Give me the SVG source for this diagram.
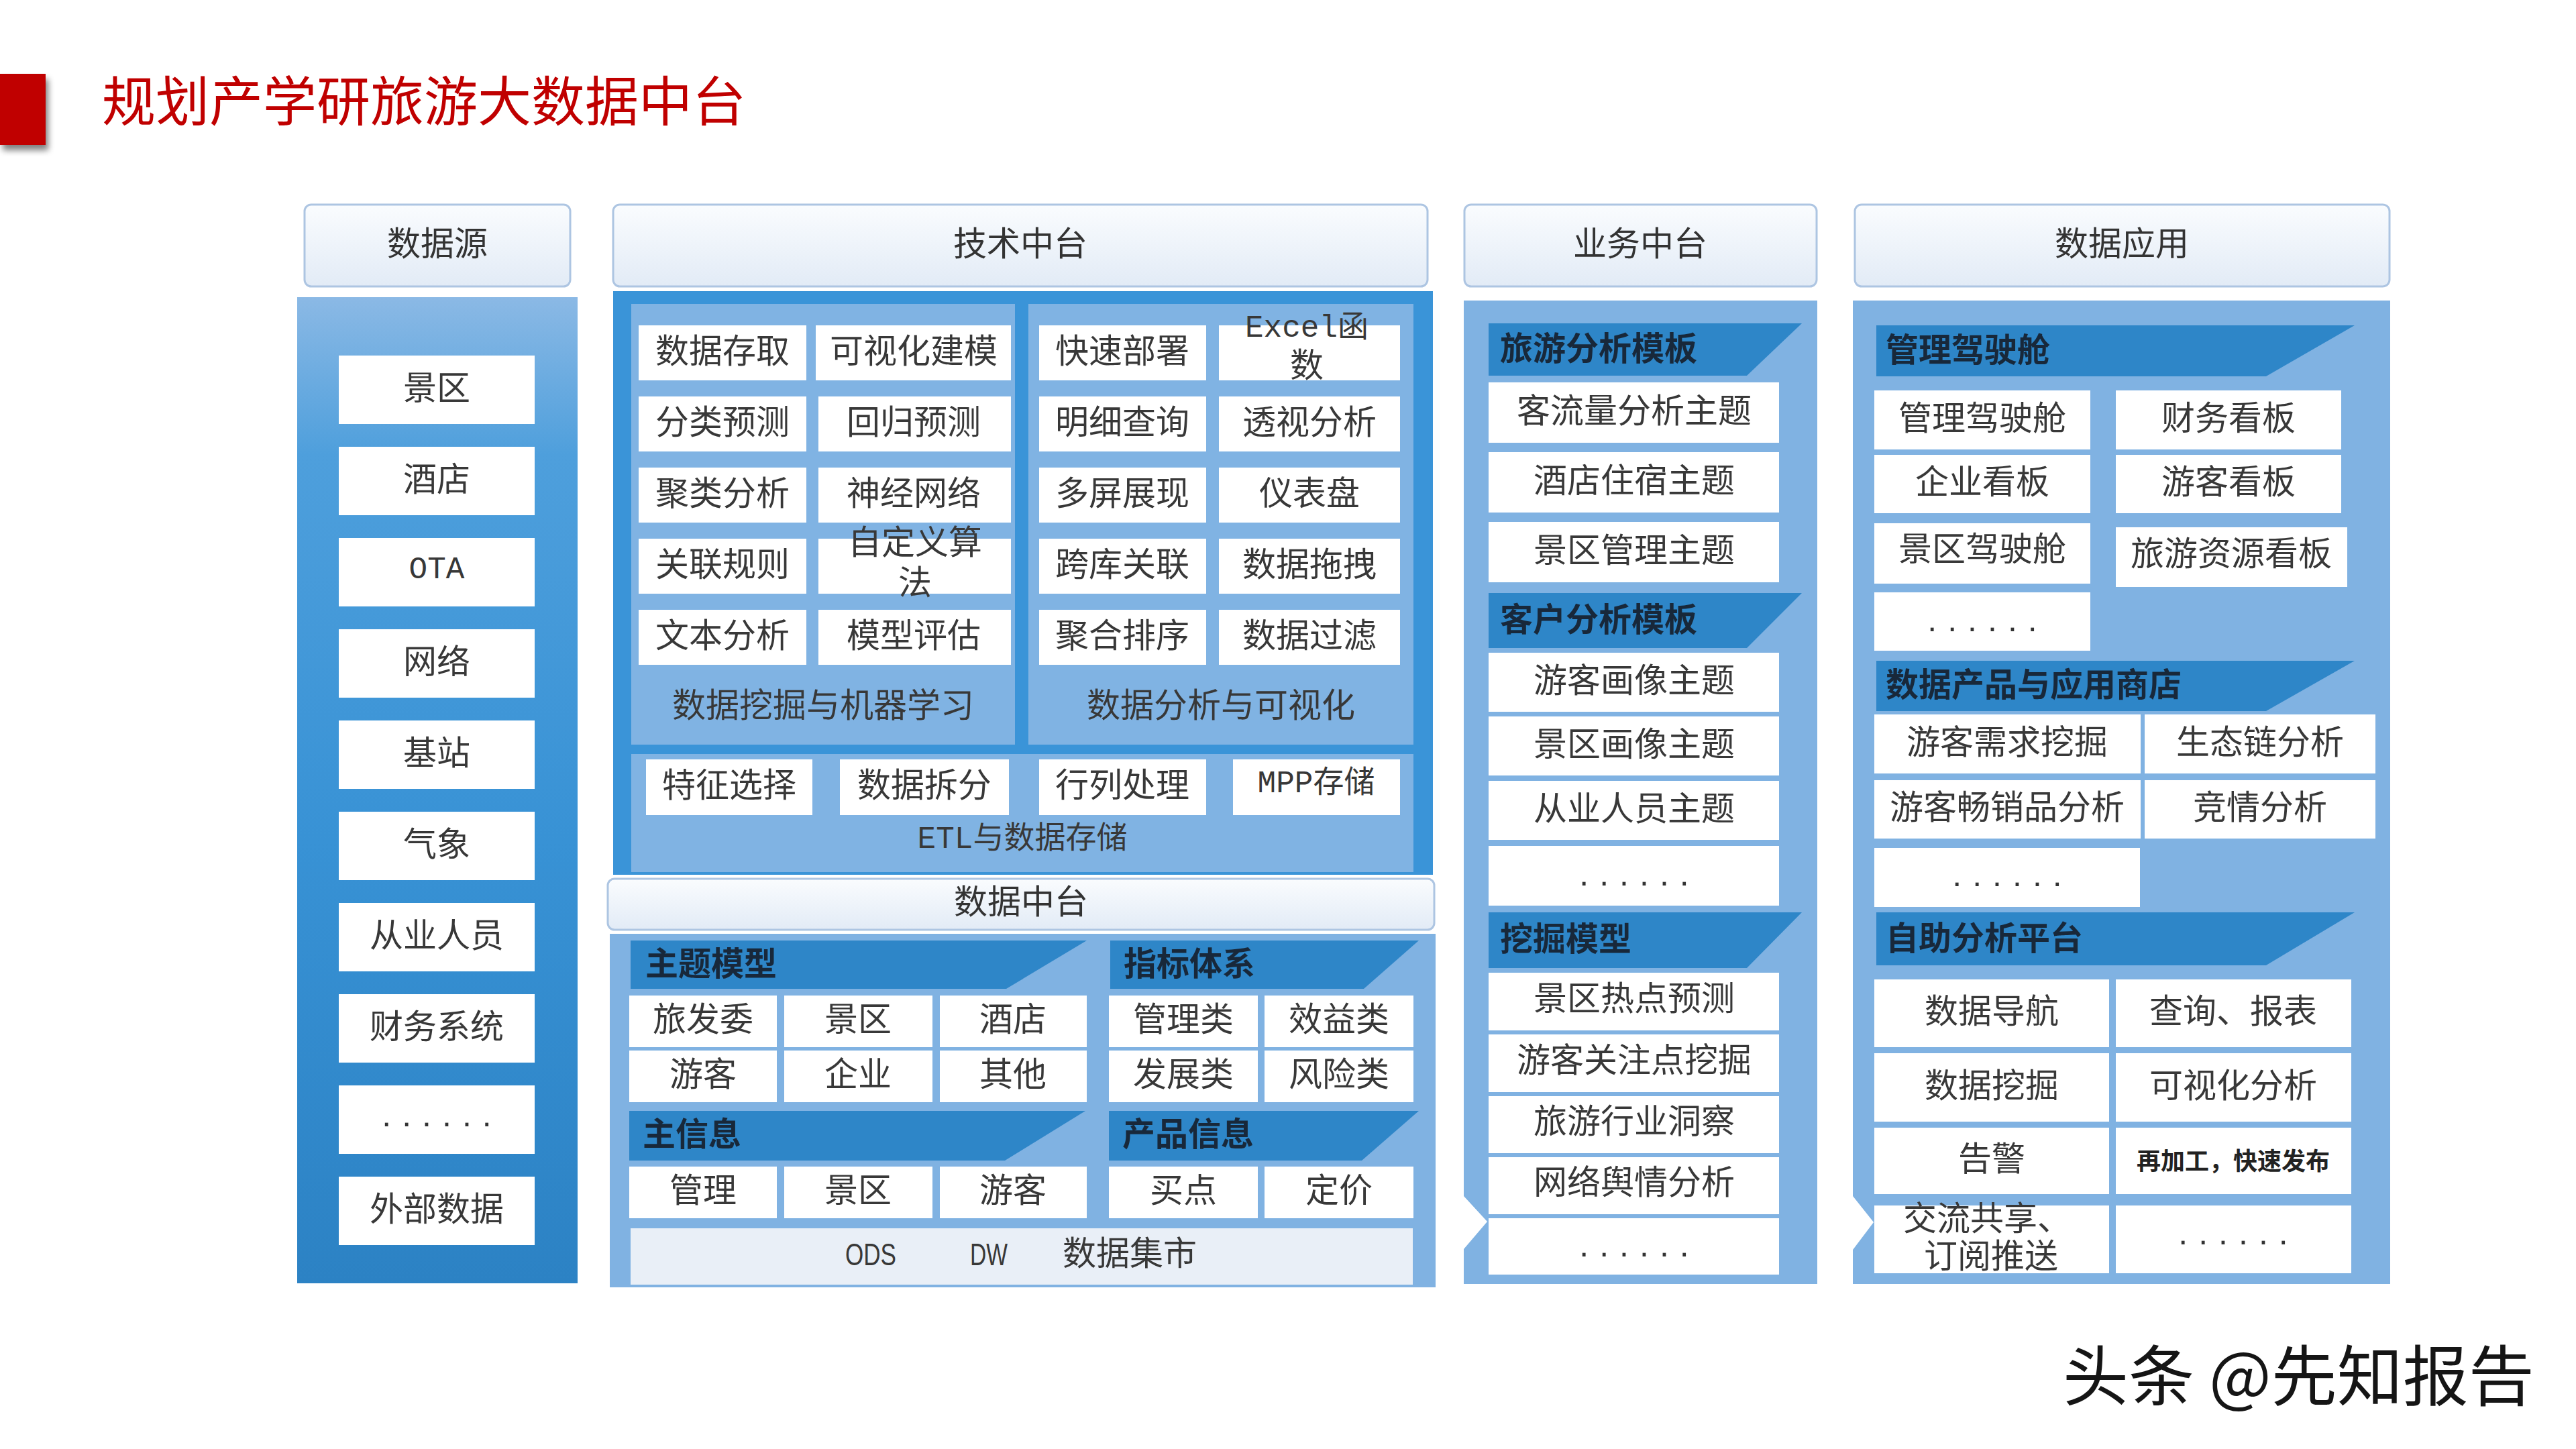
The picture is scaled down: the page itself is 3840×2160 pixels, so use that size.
<svg xmlns="http://www.w3.org/2000/svg" width="3840" height="2160" viewBox="0 0 3840 2160">
<defs>
<linearGradient id="hdrG" x1="0" y1="0" x2="0" y2="1">
<stop offset="0" stop-color="#FAFCFE"/><stop offset="1" stop-color="#E2EBF6"/>
</linearGradient>
<linearGradient id="srcG" x1="0" y1="0" x2="0" y2="1">
<stop offset="0" stop-color="#8BB9E5"/><stop offset="0.16" stop-color="#4E9FDC"/><stop offset="0.55" stop-color="#3892D5"/><stop offset="1" stop-color="#2C82C4"/>
</linearGradient>
<filter id="sh" x="-30%" y="-30%" width="160%" height="160%">
<feGaussianBlur in="SourceAlpha" stdDeviation="5"/><feOffset dx="4" dy="8"/>
<feComponentTransfer><feFuncA type="linear" slope="0.5"/></feComponentTransfer>
<feMerge><feMergeNode/><feMergeNode in="SourceGraphic"/></feMerge>
</filter>
</defs>
<style>
.hdr{fill:url(#hdrG);stroke:#ADC5E2;stroke-width:3}
.box{fill:#FFFFFF}
.panel{fill:#80B3E3}
.lb{fill:#80B2E2}
.bn{fill:#2E86C8}
.t{font-family:"Noto Sans CJK SC","Noto Sans",sans-serif;font-size:50px;fill:#383838;text-anchor:middle;dominant-baseline:central}
.h{font-family:"Noto Sans CJK SC",sans-serif;font-size:50px;fill:#333333;text-anchor:middle;dominant-baseline:central}
.bt{font-family:"Noto Sans CJK SC",sans-serif;font-size:49px;font-weight:bold;fill:#18283A;dominant-baseline:central}
.m{font-family:"Liberation Mono","Noto Sans CJK SC",monospace;font-size:46px}
.n{font-family:"Liberation Sans",sans-serif;font-size:46px}
.sm{font-size:36px;font-weight:bold;fill:#222222}
.dots{font-family:"Liberation Sans",sans-serif;font-size:50px;fill:#333;text-anchor:middle;letter-spacing:16px;dominant-baseline:central}
</style>
<rect width="3840" height="2160" fill="#FFFFFF"/>

<g id="title">
<rect x="0" y="110" width="68" height="106" fill="#C00000" filter="url(#sh)"/>
<text x="152" y="145" font-family="'Noto Sans CJK SC',sans-serif" font-size="80" fill="#C00000" dominant-baseline="central">规划产学研旅游大数据中台</text>
</g>

<g id="col-source">
<rect class="hdr" x="454" y="305" width="396" height="122" rx="10"/>
<text class="h" x="652" y="359">数据源</text>
<rect x="443" y="443" width="418" height="1470" fill="url(#srcG)"/>
<g id="src-items">
<rect class="box" x="505" y="530" width="292" height="102"/><text class="t" x="651" y="574">景区</text>
<rect class="box" x="505" y="666" width="292" height="102"/><text class="t" x="651" y="710">酒店</text>
<rect class="box" x="505" y="802" width="292" height="102"/><text class="t m" x="651" y="850">OTA</text>
<rect class="box" x="505" y="938" width="292" height="102"/><text class="t" x="651" y="982">网络</text>
<rect class="box" x="505" y="1074" width="292" height="102"/><text class="t" x="651" y="1118">基站</text>
<rect class="box" x="505" y="1210" width="292" height="102"/><text class="t" x="651" y="1254">气象</text>
<rect class="box" x="505" y="1346" width="292" height="102"/><text class="t" x="651" y="1390">从业人员</text>
<rect class="box" x="505" y="1482" width="292" height="102"/><text class="t" x="651" y="1526">财务系统</text>
<rect class="box" x="505" y="1618" width="292" height="102"/><text class="dots" x="659" y="1662">......</text>
<rect class="box" x="505" y="1754" width="292" height="102"/><text class="t" x="651" y="1798">外部数据</text>
</g>
</g>

<g id="col-tech">
<rect class="hdr" x="914" y="305" width="1214" height="122" rx="10"/>
<text class="h" x="1521" y="359">技术中台</text>
<rect x="914" y="434" width="1222" height="870" fill="#3A94D8"/>
<g id="tech-mining">
<rect class="panel" x="941" y="453" width="572" height="657"/>
<rect class="box" x="952" y="485" width="250" height="82"/><text class="t" x="1077" y="519">数据存取</text>
<rect class="box" x="1216" y="485" width="291" height="82"/><text class="t" x="1362" y="519">可视化建模</text>
<rect class="box" x="952" y="591" width="250" height="82"/><text class="t" x="1077" y="625">分类预测</text>
<rect class="box" x="1220" y="591" width="287" height="82"/><text class="t" x="1362" y="625">回归预测</text>
<rect class="box" x="952" y="697" width="250" height="82"/><text class="t" x="1077" y="731">聚类分析</text>
<rect class="box" x="1220" y="697" width="287" height="82"/><text class="t" x="1362" y="731">神经网络</text>
<rect class="box" x="952" y="803" width="250" height="82"/><text class="t" x="1077" y="837">关联规则</text>
<rect class="box" x="1220" y="803" width="287" height="82"/><text class="t" x="1364" y="804">自定义算</text><text class="t" x="1364" y="864">法</text>
<rect class="box" x="952" y="909" width="250" height="82"/><text class="t" x="1077" y="943">文本分析</text>
<rect class="box" x="1220" y="909" width="287" height="82"/><text class="t" x="1362" y="943">模型评估</text>
<text class="t" x="1227" y="1047">数据挖掘与机器学习</text>
</g>
<g id="tech-analysis">
<rect class="panel" x="1533" y="453" width="574" height="657"/>
<rect class="box" x="1549" y="485" width="249" height="82"/><text class="t" x="1673" y="519">快速部署</text>
<rect class="box" x="1817" y="485" width="270" height="82"/><text class="t m" x="1948" y="490">Excel函</text><text class="t" x="1948" y="540">数</text>
<rect class="box" x="1549" y="591" width="249" height="82"/><text class="t" x="1673" y="625">明细查询</text>
<rect class="box" x="1817" y="591" width="270" height="82"/><text class="t" x="1952" y="625">透视分析</text>
<rect class="box" x="1549" y="697" width="249" height="82"/><text class="t" x="1673" y="731">多屏展现</text>
<rect class="box" x="1817" y="697" width="270" height="82"/><text class="t" x="1952" y="731">仪表盘</text>
<rect class="box" x="1549" y="803" width="249" height="82"/><text class="t" x="1673" y="837">跨库关联</text>
<rect class="box" x="1817" y="803" width="270" height="82"/><text class="t" x="1952" y="837">数据拖拽</text>
<rect class="box" x="1549" y="909" width="249" height="82"/><text class="t" x="1673" y="943">聚合排序</text>
<rect class="box" x="1817" y="909" width="270" height="82"/><text class="t" x="1952" y="943">数据过滤</text>
<text class="t" x="1820" y="1047">数据分析与可视化</text>
</g>
<g id="tech-etl">
<rect class="panel" x="941" y="1124" width="1166" height="176"/>
<rect class="box" x="963" y="1132" width="248" height="83"/><text class="t" x="1087" y="1166">特征选择</text>
<rect class="box" x="1252" y="1132" width="252" height="83"/><text class="t" x="1378" y="1166">数据拆分</text>
<rect class="box" x="1549" y="1132" width="249" height="83"/><text class="t" x="1673" y="1166">行列处理</text>
<rect class="box" x="1838" y="1132" width="249" height="83"/><text class="t m" x="1962" y="1169">MPP存储</text>
<text class="t m" x="1524" y="1252">ETL与数据存储</text>
</g>
</g>

<g id="col-data">
<rect class="hdr" x="906" y="1310" width="1232" height="76" rx="10"/>
<text class="h" x="1522" y="1340">数据中台</text>
<rect class="lb" x="909" y="1392" width="1231" height="527"/>
<g id="data-theme">
<polygon class="bn" points="940,1402 1620,1402 1500,1474 940,1474"/>
<text class="bt" x="962" y="1432">主题模型</text>
<rect class="box" x="938" y="1484" width="220" height="77"/><text class="t" x="1048" y="1515">旅发委</text>
<rect class="box" x="1169" y="1484" width="221" height="77"/><text class="t" x="1279" y="1515">景区</text>
<rect class="box" x="1401" y="1484" width="219" height="77"/><text class="t" x="1510" y="1515">酒店</text>
<rect class="box" x="938" y="1566" width="220" height="77"/><text class="t" x="1048" y="1597">游客</text>
<rect class="box" x="1169" y="1566" width="221" height="77"/><text class="t" x="1279" y="1597">企业</text>
<rect class="box" x="1401" y="1566" width="219" height="77"/><text class="t" x="1510" y="1597">其他</text>
</g>
<g id="data-index">
<polygon class="bn" points="1655,1402 2115,1402 2033,1474 1655,1474"/>
<text class="bt" x="1675" y="1432">指标体系</text>
<rect class="box" x="1653" y="1484" width="222" height="77"/><text class="t" x="1764" y="1515">管理类</text>
<rect class="box" x="1885" y="1484" width="222" height="77"/><text class="t" x="1996" y="1515">效益类</text>
<rect class="box" x="1653" y="1566" width="222" height="77"/><text class="t" x="1764" y="1597">发展类</text>
<rect class="box" x="1885" y="1566" width="222" height="77"/><text class="t" x="1996" y="1597">风险类</text>
</g>
<g id="data-master">
<polygon class="bn" points="938,1656 1618,1656 1498,1730 938,1730"/>
<text class="bt" x="958" y="1686">主信息</text>
<rect class="box" x="938" y="1739" width="220" height="77"/><text class="t" x="1048" y="1770">管理</text>
<rect class="box" x="1169" y="1739" width="221" height="77"/><text class="t" x="1279" y="1770">景区</text>
<rect class="box" x="1401" y="1739" width="219" height="77"/><text class="t" x="1510" y="1770">游客</text>
</g>
<g id="data-product">
<polygon class="bn" points="1653,1656 2115,1656 2030,1730 1653,1730"/>
<text class="bt" x="1673" y="1686">产品信息</text>
<rect class="box" x="1653" y="1739" width="222" height="77"/><text class="t" x="1764" y="1770">买点</text>
<rect class="box" x="1885" y="1739" width="222" height="77"/><text class="t" x="1996" y="1770">定价</text>
</g>
<g id="data-store">
<rect x="940" y="1831" width="1166" height="84" fill="#E9EFF7"/>
<text class="t n" x="1298" y="1870" textLength="76" lengthAdjust="spacingAndGlyphs">ODS</text>
<text class="t n" x="1474" y="1870" textLength="56" lengthAdjust="spacingAndGlyphs">DW</text>
<text class="t" x="1684" y="1864">数据集市</text>
</g>
</g>

<g id="col-business">
<rect class="hdr" x="2183" y="305" width="525" height="122" rx="10"/>
<text class="h" x="2445" y="359">业务中台</text>
<polygon class="lb" points="2182,448 2709,448 2709,1914 2182,1914 2182,1862 2217,1821 2182,1783"/>
<g id="biz-travel">
<polygon class="bn" points="2219,482 2686,482 2604,560 2219,560"/>
<text class="bt" x="2236" y="515">旅游分析模板</text>
<rect class="box" x="2219" y="570" width="433" height="90"/><text class="t" x="2436" y="608">客流量分析主题</text>
<rect class="box" x="2219" y="674" width="433" height="90"/><text class="t" x="2436" y="712">酒店住宿主题</text>
<rect class="box" x="2219" y="778" width="433" height="90"/><text class="t" x="2436" y="816">景区管理主题</text>
</g>
<g id="biz-customer">
<polygon class="bn" points="2219,884 2686,884 2604,966 2219,966"/>
<text class="bt" x="2236" y="919">客户分析模板</text>
<rect class="box" x="2219" y="973" width="433" height="88"/><text class="t" x="2436" y="1010">游客画像主题</text>
<rect class="box" x="2219" y="1068" width="433" height="88"/><text class="t" x="2436" y="1105">景区画像主题</text>
<rect class="box" x="2219" y="1164" width="433" height="88"/><text class="t" x="2436" y="1201">从业人员主题</text>
<rect class="box" x="2219" y="1261" width="433" height="89"/><text class="dots" x="2444" y="1303">......</text>
</g>
<g id="biz-mining">
<polygon class="bn" points="2219,1360 2686,1360 2604,1443 2219,1443"/>
<text class="bt" x="2236" y="1395">挖掘模型</text>
<rect class="box" x="2219" y="1450" width="433" height="86"/><text class="t" x="2436" y="1484">景区热点预测</text>
<rect class="box" x="2219" y="1542" width="433" height="86"/><text class="t" x="2436" y="1576">游客关注点挖掘</text>
<rect class="box" x="2219" y="1634" width="433" height="85"/><text class="t" x="2436" y="1667">旅游行业洞察</text>
<rect class="box" x="2219" y="1725" width="433" height="85"/><text class="t" x="2436" y="1758">网络舆情分析</text>
<rect class="box" x="2219" y="1816" width="433" height="84"/><text class="dots" x="2444" y="1856">......</text>
</g>
</g>

<g id="col-app">
<rect class="hdr" x="2765" y="305" width="797" height="122" rx="10"/>
<text class="h" x="3163" y="359">数据应用</text>
<polygon class="lb" points="2762,448 3563,448 3563,1914 2762,1914 2762,1863 2793,1822 2762,1783"/>
<g id="app-cockpit">
<polygon class="bn" points="2797,485 3510,485 3378,561 2797,561"/>
<text class="bt" x="2811" y="517">管理驾驶舱</text>
<rect class="box" x="2794" y="582" width="322" height="88"/><text class="t" x="2955" y="619">管理驾驶舱</text>
<rect class="box" x="3154" y="582" width="336" height="88"/><text class="t" x="3322" y="619">财务看板</text>
<rect class="box" x="2794" y="678" width="322" height="87"/><text class="t" x="2955" y="714">企业看板</text>
<rect class="box" x="3154" y="678" width="336" height="87"/><text class="t" x="3322" y="714">游客看板</text>
<rect class="box" x="2794" y="780" width="322" height="90"/><text class="t" x="2955" y="814">景区驾驶舱</text>
<rect class="box" x="3154" y="786" width="345" height="89"/><text class="t" x="3326" y="821">旅游资源看板</text>
<rect class="box" x="2794" y="883" width="322" height="87"/><text class="dots" x="2963" y="924">......</text>
</g>
<g id="app-store">
<polygon class="bn" points="2797,985 3510,985 3378,1060 2797,1060"/>
<text class="bt" x="2811" y="1016">数据产品与应用商店</text>
<rect class="box" x="2794" y="1065" width="397" height="88"/><text class="t" x="2992" y="1102">游客需求挖掘</text>
<rect class="box" x="3197" y="1065" width="344" height="88"/><text class="t" x="3369" y="1102">生态链分析</text>
<rect class="box" x="2794" y="1163" width="397" height="87"/><text class="t" x="2992" y="1199">游客畅销品分析</text>
<rect class="box" x="3197" y="1163" width="344" height="87"/><text class="t" x="3369" y="1199">竞情分析</text>
<rect class="box" x="2794" y="1264" width="396" height="88"/><text class="dots" x="3000" y="1304">......</text>
</g>
<g id="app-self">
<polygon class="bn" points="2797,1360 3510,1360 3378,1439 2797,1439"/>
<text class="bt" x="2811" y="1394">自助分析平台</text>
<rect class="box" x="2794" y="1460" width="350" height="101"/><text class="t" x="2969" y="1503">数据导航</text>
<rect class="box" x="3154" y="1460" width="351" height="101"/><text class="t" x="3329" y="1503">查询、报表</text>
<rect class="box" x="2794" y="1570" width="350" height="102"/><text class="t" x="2969" y="1614">数据挖掘</text>
<rect class="box" x="3154" y="1570" width="351" height="102"/><text class="t" x="3329" y="1614">可视化分析</text>
<rect class="box" x="2794" y="1681" width="350" height="99"/><text class="t" x="2969" y="1723">告警</text>
<rect class="box" x="3154" y="1681" width="351" height="99"/><text class="t sm" x="3329" y="1728">再加工，快速发布</text>
<rect class="box" x="2794" y="1797" width="350" height="101"/><text class="t" x="2962" y="1812">交流共享、</text><text class="t" x="2968" y="1868">订阅推送</text>
<rect class="box" x="3154" y="1797" width="351" height="101"/><text class="dots" x="3337" y="1838">......</text>
</g>
</g>

<g id="connectors"></g>

<g id="watermark">
<text x="3075" y="2044" font-family="'Noto Sans CJK SC',sans-serif" font-size="98" fill="#151515" dominant-baseline="central">头条 @先知报告</text>
</g>
</svg>
